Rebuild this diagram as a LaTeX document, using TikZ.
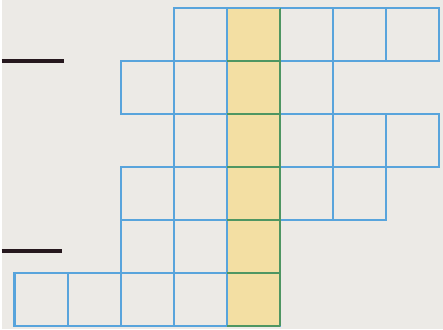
\documentclass[tikz,border=0pt]{standalone}
\usepackage{tikz}
\usetikzlibrary{positioning}
\definecolor{paper}{RGB}{236,234,230}
\definecolor{gridblue}{RGB}{88,164,220}
\definecolor{cellyellow}{RGB}{243,223,163}
\definecolor{gridgreen}{RGB}{78,150,98}
\definecolor{inkline}{RGB}{38,24,30}
\begin{document}
\begin{tikzpicture}[
    cell/.style={draw=gridblue, line width=1.1pt, minimum size=1cm, inner sep=0pt, outer sep=0pt},
    goldcell/.style={cell, fill=cellyellow, draw=none},
    rule/.style={draw=inkline, line width=1.7pt},
]
% background, fixes the margins
\fill[paper] (-0.244,0.151) rectangle (8.083,-6.057);
% === Blue cells, row by row (first and last column) ===
\foreach \r/\a/\b in {0/3/7, 1/2/5, 2/3/7, 3/2/6, 4/2/4, 5/0/4} {
  \foreach \c in {\a,...,\b}
    \node[cell] (c-\r-\c) at (\c+0.5,-\r-0.5) {};
}
% === Yellow column ===
\foreach \r in {0,...,5} {
  \node[goldcell] (g-\r) at (4.5,-\r-0.5) {};
  \draw[gridblue, line width=1.1pt] (g-\r.north west) -- (g-\r.south west);
  \draw[gridgreen, line width=1.1pt] (g-\r.north east) -- (g-\r.south east);
}
\draw[gridblue, line width=1.1pt] (g-0.north west) -- (g-0.north east);
\foreach \r in {0,...,5}
  \draw[gridgreen, line width=1.1pt] (g-\r.south west) -- (g-\r.south east);
% === Answer lines ===
\coordinate (l1a) at (-0.244,-1);
\coordinate (l1b) at (0.94,-1);
\coordinate (l2a) at (-0.244,-4.585);
\coordinate (l2b) at (0.90,-4.585);
\draw[rule] (l1a) -- (l1b);
\draw[rule] (l2a) -- (l2b);
\end{tikzpicture}
\end{document}
